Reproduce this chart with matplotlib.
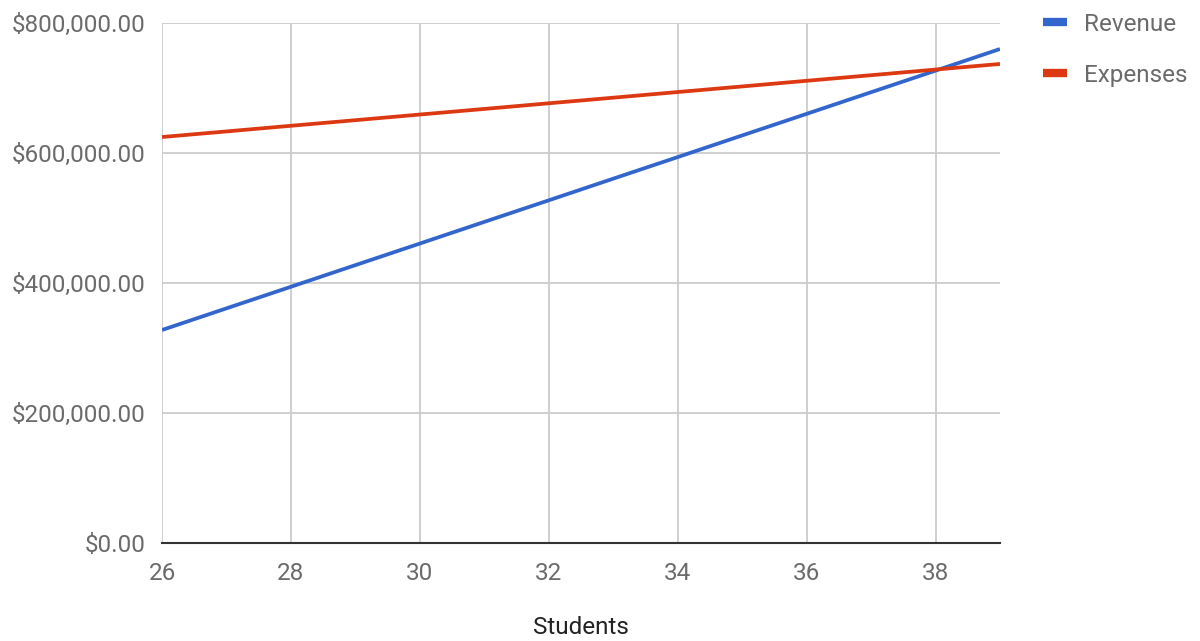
import matplotlib.pyplot as plt
from matplotlib.ticker import FuncFormatter

students = [26, 27, 28, 29, 30, 31, 32, 33, 34, 35, 36, 37, 38, 39]
revenue = [327700, 361000, 394200, 427500, 460700, 494000, 527200,
           560500, 593700, 627000, 660200, 693500, 726700, 760000]
expenses = [624600, 633200, 641900, 650500, 659200, 667800, 676500,
            685100, 693800, 702400, 711100, 719700, 728400, 737000]

plt.rcParams['font.family'] = ['Roboto', 'DejaVu Sans']
fs = 17.5

fig = plt.figure(figsize=(12, 6.41), dpi=100)
ax = fig.add_axes([0.135, 0.1529, 0.6983, 0.8112])

ax.plot(students, revenue, color='#3366cc', lw=2.7, label='Revenue', solid_capstyle='butt')
ax.plot(students, expenses, color='#dc3912', lw=2.7, label='Expenses', solid_capstyle='butt')

ax.set_xlim(26, 39)
ax.set_ylim(0, 800000)
ax.set_xticks(range(26, 39, 2))
ax.set_yticks(range(0, 800001, 200000))
ax.yaxis.set_major_formatter(FuncFormatter(lambda v, p: '${:,.2f}'.format(v)))

ax.grid(True, color='#cccccc', lw=1.3)
ax.set_axisbelow(True)
for side in ['top', 'right', 'left']:
    ax.spines[side].set_visible(False)
ax.spines['bottom'].set_color('#333333')
ax.spines['bottom'].set_linewidth(1.5)
ax.spines['bottom'].set_zorder(3)

ax.tick_params(axis='both', length=0, labelsize=fs, colors='#6b6b6b')
ax.tick_params(axis='x', pad=14)
ax.tick_params(axis='y', pad=12)

ax.set_xlabel('Students', fontsize=fs, color='#222222', labelpad=22)

leg = fig.legend(loc='upper left', bbox_to_anchor=(1043 / 1200, 1 - 13 / 641),
                 frameon=False, fontsize=fs, handlelength=1.0, handletextpad=0.7,
                 labelspacing=1.15, borderpad=0, borderaxespad=0)
for h in leg.get_lines():
    h.set_linewidth(6)
for t in leg.get_texts():
    t.set_color('#6b6b6b')

fig.savefig('out.png', dpi=100)
